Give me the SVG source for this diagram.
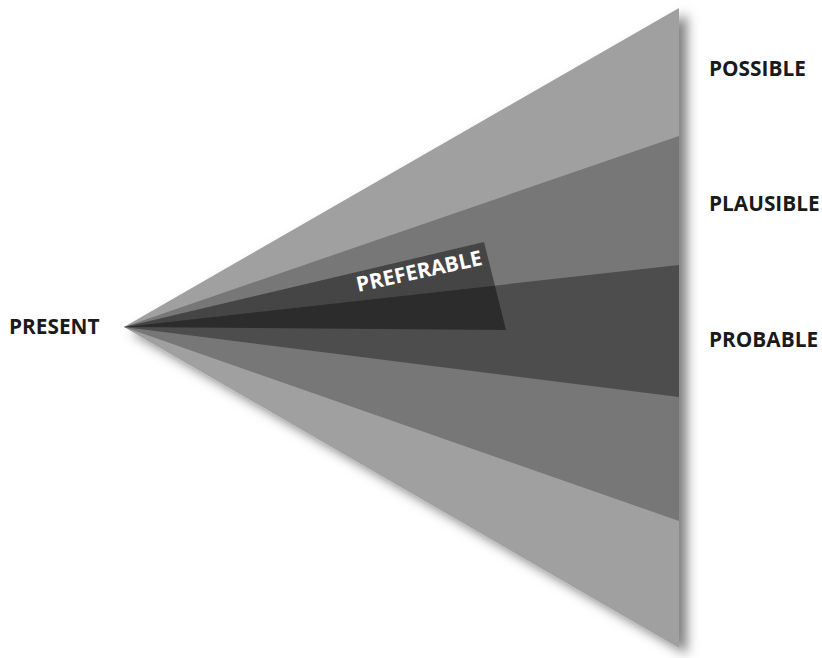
<svg xmlns="http://www.w3.org/2000/svg" width="822" height="658" viewBox="0 0 822 658">
  <style>
    .lbl { font-family: "Open Sans", "Liberation Sans", sans-serif; font-weight: 700; font-size: 20.8px; fill: #1a1a1a; }
    .inner { font-family: "Open Sans", "Liberation Sans", sans-serif; font-weight: 700; font-size: 21px; fill: #ffffff; }
  </style>
  <defs>
    <filter id="shadow" x="-10%" y="-10%" width="130%" height="130%">
      <feDropShadow dx="8" dy="6" stdDeviation="6" flood-color="#000" flood-opacity="0.5"/>
    </filter>
  </defs>
  <rect width="822" height="658" fill="#ffffff"/>
  <g id="possible-band">
    <polygon points="124,327 679,8 679,648" fill="#a0a0a0" filter="url(#shadow)"/>
  </g>
  <g id="plausible-band">
    <polygon points="124,327 679,136 679,521" fill="#777777"/>
  </g>
  <g id="probable-band">
    <polygon points="124,327 679,265 679,397" fill="#4d4d4d"/>
  </g>
  <g id="preferable-band">
    <polygon points="124,327 484,242 506,330" fill="#000000" fill-opacity="0.42"/>
    <text class="inner" transform="translate(358,292) rotate(-12.3)">PREFERABLE</text>
  </g>
  <g id="labels">
    <text class="lbl" x="9" y="334">PRESENT</text>
    <text class="lbl" x="709" y="76">POSSIBLE</text>
    <text class="lbl" x="709" y="211">PLAUSIBLE</text>
    <text class="lbl" x="709" y="347">PROBABLE</text>
  </g>
  <g id="connectors"/>
</svg>
